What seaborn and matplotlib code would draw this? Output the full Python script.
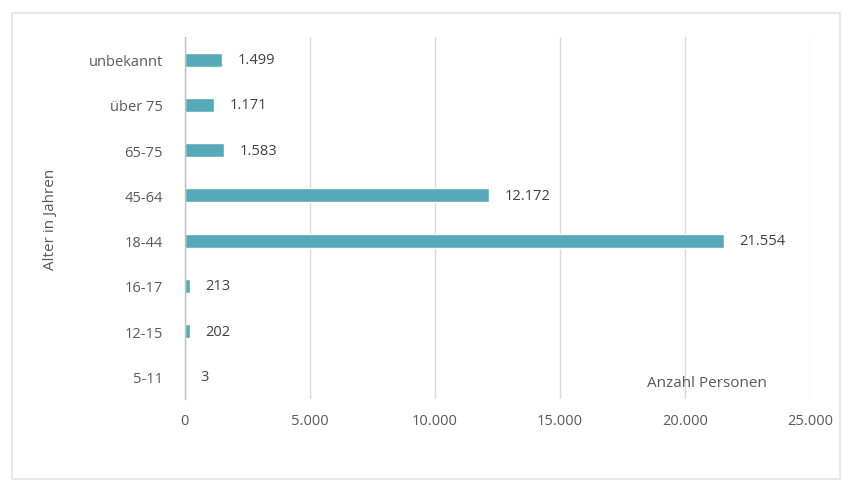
import seaborn as sns
import matplotlib.pyplot as plt
import matplotlib.patches as mpatches
import pandas as pd

# Data
age_groups = ["unbekannt", "über 75", "65-75", "45-64", "18-44", "16-17", "12-15", "5-11"]
persons = [1499, 1171, 1583, 12172, 21554, 213, 202, 3]
x_ticks = [0, 5000, 10000, 15000, 20000, 25000]


def de_fmt(v):
    return f"{v:,.0f}".replace(",", ".")


df = pd.DataFrame({"age": age_groups, "persons": persons})

sns.set_theme(style="whitegrid")
plt.rcParams["font.family"] = ["Open Sans", "DejaVu Sans"]

fig = plt.figure(figsize=(8.52, 4.89), dpi=100)
ax = fig.add_axes([0.217, 0.182, 0.734, 0.74])

sns.barplot(data=df, x="persons", y="age", color="#56AAB8", width=0.31,
            saturation=1, ax=ax)

ax.bar_label(ax.containers[0], labels=[de_fmt(v) for v in persons],
             padding=11, fontsize=10.5, color="#404040")

ax.set_xlim(0, 25000)
ax.set_xticks(x_ticks)
ax.set_xticklabels([de_fmt(v) for v in x_ticks])
ax.tick_params(axis="x", labelsize=10.5, labelcolor="#595959", pad=10, length=0)
ax.tick_params(axis="y", labelsize=10.5, labelcolor="#595959", pad=16, length=0)

ax.grid(axis="y", visible=False)
ax.grid(axis="x", color="#d9d9d9", linewidth=1)
for s in ["top", "right", "bottom"]:
    ax.spines[s].set_visible(False)
ax.spines["left"].set_color("#bfbfbf")
ax.spines["left"].set_linewidth(1)

ax.set_xlabel("")
ax.set_ylabel("Alter in Jahren", fontsize=11, color="#595959", labelpad=22)
ax.text(0.835, 0.045, "Anzahl Personen", transform=ax.transAxes,
        ha="center", va="center", fontsize=11, color="#595959")

# outer chart frame
fig.patches.append(mpatches.Rectangle((12 / 852, 9 / 489), 828 / 852, 466 / 489,
                                      transform=fig.transFigure, fill=False,
                                      edgecolor="#e3e3e3", linewidth=1.2))

fig.savefig("out.png", dpi=100)
